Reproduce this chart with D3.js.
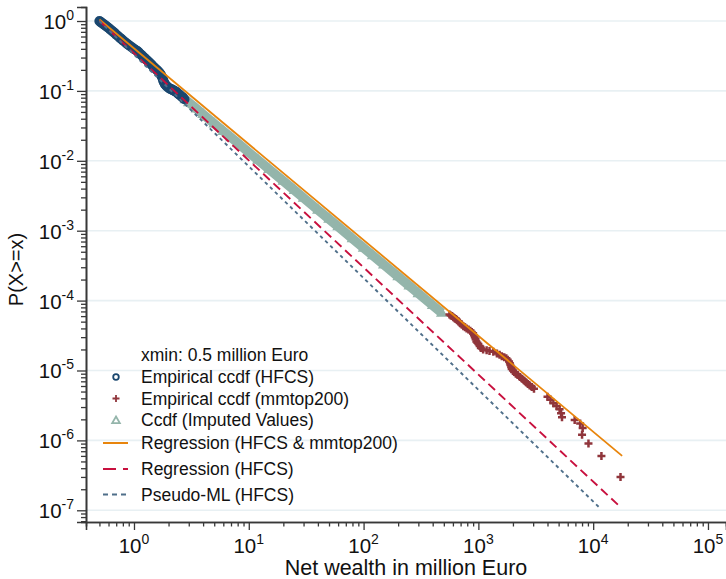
<!DOCTYPE html>
<html>
<head>
<meta charset="utf-8">
<script src="https://cdn.jsdelivr.net/npm/d3@7"></script>
<style>
  body { margin: 0; background: #fff; }
  svg { font-family: "Liberation Sans", Arial, sans-serif; }
</style>
</head>
<body>
<div class="svg-container"></div>
<script>
// Empirical ccdf of HFCS households (net wealth in million Euro, P(X>=x))
var hfcsX = [0.50, 0.51, 0.52, 0.535, 0.55, 0.565, 0.58, 0.60, 0.62, 0.64, 0.66, 0.68, 0.70, 0.725,
             0.75, 0.775, 0.80, 0.83, 0.86, 0.89, 0.92, 0.96, 1.00, 1.035, 1.07, 1.10, 1.13, 1.165,
             1.20, 1.24, 1.28, 1.33, 1.38, 1.43, 1.48, 1.53, 1.58, 1.63, 1.68, 1.72, 1.75, 1.78,
             1.80, 1.83, 1.86, 1.90, 1.95, 2.00, 2.05, 2.10, 2.15, 2.20, 2.25, 2.30, 2.35, 2.40,
             2.45, 2.52, 2.60, 2.68, 2.75];
var hfcsY = [1.00, 0.975, 0.95, 0.92, 0.89, 0.86, 0.83, 0.795, 0.76, 0.73, 0.70, 0.67, 0.64, 0.61,
             0.58, 0.555, 0.53, 0.505, 0.48, 0.46, 0.44, 0.42, 0.40, 0.385, 0.37, 0.355, 0.34, 0.325,
             0.31, 0.295, 0.28, 0.265, 0.25, 0.235, 0.22, 0.21, 0.20, 0.19, 0.18, 0.17, 0.16, 0.15,
             0.14, 0.132, 0.125, 0.12, 0.115, 0.111, 0.108, 0.106, 0.104, 0.102, 0.100, 0.098, 0.096, 0.093,
             0.090, 0.087, 0.083, 0.080, 0.076];

// Empirical ccdf of the rich list (mmtop200)
var richX = [560, 575, 590, 605, 620, 635, 650, 670, 690, 715, 740, 765, 790, 820, 850, 875, 900,
             915, 930, 945, 960, 980, 1000, 1025, 1050, 1100, 1180, 1250, 1350, 1450, 1530, 1600,
             1680, 1750, 1800, 1850, 1880, 1900, 1930, 1950, 2000, 2050, 2120, 2200, 2300, 2400,
             2500, 2600, 2700, 2800, 2920, 3050, 4000, 4250, 4500, 4800, 5100, 5250, 5350, 6900,
             7700, 8100, 8000, 9100, 11800, 17300];
var richY = [6.3e-5, 6.1e-5, 6.0e-5, 5.8e-5, 5.6e-5, 5.45e-5, 5.3e-5, 5.05e-5, 4.8e-5, 4.55e-5,
             4.3e-5, 4.15e-5, 4.0e-5, 3.85e-5, 3.7e-5, 3.55e-5, 3.4e-5, 3.2e-5, 3.0e-5, 2.8e-5,
             2.6e-5, 2.5e-5, 2.4e-5, 2.25e-5, 2.1e-5, 2.0e-5, 1.95e-5, 1.9e-5, 1.85e-5, 1.75e-5,
             1.68e-5, 1.6e-5, 1.55e-5, 1.5e-5, 1.42e-5, 1.35e-5, 1.27e-5, 1.2e-5, 1.12e-5, 1.05e-5,
             1.0e-5, 9.5e-6, 9.0e-6, 8.6e-6, 8.1e-6, 7.6e-6, 7.2e-6, 6.8e-6, 6.4e-6, 6.1e-6, 5.8e-6,
             5.5e-6, 4.2e-6, 3.8e-6, 3.4e-6, 3.1e-6, 2.8e-6, 2.45e-6, 2.15e-6, 1.95e-6, 1.75e-6,
             1.5e-6, 1.2e-6, 9.0e-7, 6.0e-7, 3.0e-7];

// Ccdf of imputed values (dense band between the two samples)
var imputedX = [2.8, 3, 3.5, 4, 5, 6, 7, 8, 10, 12, 15, 20, 25, 30, 40, 50, 60, 80, 100, 120,
                150, 200, 250, 300, 400, 480];
var imputedY = [0.0755, 0.0687, 0.0556, 0.0463, 0.0341, 0.0266, 0.0216, 0.0180, 0.0132, 0.0103,
                0.0076, 0.00514, 0.00379, 0.00295, 0.00199, 0.00147, 0.00115, 0.000773, 0.000569,
                0.000444, 0.000327, 0.000221, 0.000163, 0.000127, 0.0000857, 0.0000668];

// fitted Pareto lines, start and end points
var regBothX = [0.5, 17870], regBothY = [1.05, 6.0e-7];
var regHfcsX = [0.5, 17500], regHfcsY = [1.0, 1.09e-7];
var pmlX = [0.5, 11560], pmlY = [1.0, 1.06e-7];

// decades on the axes
var xDecades = [0, 1, 2, 3, 4, 5];
var yDecades = [0, -1, -2, -3, -4, -5, -6, -7];

var legendLabels = ["Empirical ccdf (HFCS)", "Empirical ccdf (mmtop200)", "Ccdf (Imputed Values)",
                    "Regression (HFCS & mmtop200)", "Regression (HFCS)", "Pseudo-ML (HFCS)"];

var colors = {
  navy: "#1a476f",
  maroon: "#90353b",
  tri: "#94b5ab",
  orange: "#e8850c",
  red: "#c8103e",
  slate: "#4f6f8a",
  grid: "#e8f0f3",
  axis: "#383838"
};

var width = 726, height = 579;
var plot = { left: 86, right: 726, top: 7, bottom: 522 };

var svg = d3.select(".svg-container").append("svg")
  .attr("width", width)
  .attr("height", height);

var x = d3.scaleLog()
  .domain([Math.pow(10, -0.418), Math.pow(10, 5.157)])
  .range([plot.left, plot.right]);
var y = d3.scaleLog()
  .domain([Math.pow(10, -7.1675), Math.pow(10, 0.2004)])
  .range([plot.bottom, plot.top]);

function zip(xs, ys) {
  return xs.map(function(v, i) { return [v, ys[i]]; });
}

// minor ticks 2..9 for every decade, kept inside the domain
function minorTicks(scale, from, to, lowest) {
  var out = [];
  for (var e = from; e <= to; e++) {
    for (var m = 2; m <= 9; m++) {
      var v = m * Math.pow(10, e);
      var d = scale.domain();
      if (v >= d[0] && v <= d[1] && v >= lowest) out.push(v);
    }
  }
  return out;
}

// gridlines
svg.append("g").selectAll("line")
  .data(yDecades)
  .enter().append("line")
  .attr("x1", plot.left).attr("x2", plot.right)
  .attr("y1", function(d) { return y(Math.pow(10, d)); })
  .attr("y2", function(d) { return y(Math.pow(10, d)); })
  .attr("stroke", colors.grid)
  .attr("stroke-width", 1.6);

// axes
var yAxis = d3.axisLeft(y)
  .tickValues(yDecades.map(function(d) { return Math.pow(10, d); }))
  .tickSize(9).tickFormat("");
var yMinor = d3.axisLeft(y)
  .tickValues(minorTicks(y, -8, 0, 0))
  .tickSize(5).tickFormat("");
var xAxis = d3.axisBottom(x)
  .tickValues(xDecades.map(function(d) { return Math.pow(10, d); }))
  .tickSize(8).tickFormat("");
var xMinor = d3.axisBottom(x)
  .tickValues(minorTicks(x, -1, 5, 0.5))
  .tickSize(4.5).tickFormat("");

function styleAxis(g) {
  g.selectAll("path").attr("stroke", colors.axis).attr("stroke-width", 1.6);
  g.selectAll("line").attr("stroke", colors.axis).attr("stroke-width", 1.3);
}

svg.append("g").attr("transform", "translate(" + plot.left + ",0)").call(yMinor).call(styleAxis);
svg.append("g").attr("transform", "translate(" + plot.left + ",0)").call(yAxis).call(styleAxis);
svg.append("g").attr("transform", "translate(0," + plot.bottom + ")").call(xMinor).call(styleAxis);
svg.append("g").attr("transform", "translate(0," + plot.bottom + ")").call(xAxis).call(styleAxis);

// tick labels with superscript exponents
var yLab = svg.append("g").selectAll("text")
  .data(yDecades)
  .enter().append("text")
  .attr("x", 74)
  .attr("y", function(d) { return y(Math.pow(10, d)) + 8; })
  .attr("text-anchor", "end")
  .attr("font-size", 20.5)
  .attr("fill", "#111");
yLab.append("tspan").text("10");
yLab.append("tspan").attr("dy", -9).attr("font-size", 14).text(function(d) { return d; });

var xLab = svg.append("g").selectAll("text")
  .data(xDecades)
  .enter().append("text")
  .attr("x", function(d) { return x(Math.pow(10, d)); })
  .attr("y", 553)
  .attr("text-anchor", "middle")
  .attr("font-size", 20.5)
  .attr("fill", "#111");
xLab.append("tspan").text("10");
xLab.append("tspan").attr("dy", -9).attr("font-size", 14).text(function(d) { return d; });

// axis titles
svg.append("text")
  .attr("x", (plot.left + plot.right) / 2).attr("y", 575)
  .attr("text-anchor", "middle")
  .attr("font-size", 21.5)
  .attr("fill", "#111")
  .text("Net wealth in million Euro");
svg.append("text")
  .attr("transform", "translate(23," + ((plot.top + plot.bottom) / 2 + 5) + ") rotate(-90)")
  .attr("text-anchor", "middle")
  .attr("font-size", 20)
  .attr("fill", "#111")
  .text("P(X>=x)");

// marker shapes
function plusPath(s) {
  return "M" + (-s) + ",0H" + s + "M0," + (-s) + "V" + s;
}
function triPath(s) {
  return "M0," + (-s) + "L" + (s * 0.95) + "," + (s * 0.65) + "L" + (-s * 0.95) + "," + (s * 0.65) + "Z";
}

// imputed values: dense overlapping triangles
var line = d3.line()
  .x(function(d) { return x(d[0]); })
  .y(function(d) { return y(d[1]); });
var imputed = zip(imputedX, imputedY);
svg.append("path")
  .attr("d", line(imputed))
  .attr("fill", "none")
  .attr("stroke", colors.tri)
  .attr("stroke-width", 9.5);
svg.append("g").selectAll("path")
  .data(imputed)
  .enter().append("path")
  .attr("transform", function(d) { return "translate(" + x(d[0]) + "," + y(d[1]) + ")"; })
  .attr("d", triPath(4.5))
  .attr("fill", colors.tri)
  .attr("stroke", colors.tri)
  .attr("stroke-width", 1.8);

// HFCS circles
svg.append("g").selectAll("circle")
  .data(zip(hfcsX, hfcsY))
  .enter().append("circle")
  .attr("cx", function(d) { return x(d[0]); })
  .attr("cy", function(d) { return y(d[1]); })
  .attr("r", 3.8)
  .attr("fill", "none")
  .attr("stroke", colors.navy)
  .attr("stroke-width", 2.6);

// mmtop200 pluses
svg.append("g").selectAll("path")
  .data(zip(richX, richY))
  .enter().append("path")
  .attr("transform", function(d) { return "translate(" + x(d[0]) + "," + y(d[1]) + ")"; })
  .attr("d", plusPath(4))
  .attr("fill", "none")
  .attr("stroke", colors.maroon)
  .attr("stroke-width", 2.5);

// fitted lines
var fits = [
  { pts: zip(regBothX, regBothY), color: colors.orange, dash: null, w: 1.8 },
  { pts: zip(regHfcsX, regHfcsY), color: colors.red, dash: "9,5", w: 1.9 },
  { pts: zip(pmlX, pmlY), color: colors.slate, dash: "3.5,3.5", w: 1.9 }
];
svg.append("g").selectAll("path")
  .data(fits)
  .enter().append("path")
  .attr("d", function(d) { return line(d.pts); })
  .attr("fill", "none")
  .attr("stroke", function(d) { return d.color; })
  .attr("stroke-width", function(d) { return d.w; })
  .attr("stroke-dasharray", function(d) { return d.dash; });

// legend
var legend = svg.append("g").attr("font-size", 17.5).attr("fill", "#111");
legend.append("text").attr("x", 141).attr("y", 361).text("xmin: 0.5 million Euro");

var rowY = [377, 398.5, 420, 443, 469, 494.5];
legend.selectAll("text.item")
  .data(legendLabels)
  .enter().append("text")
  .attr("class", "item")
  .attr("x", 141)
  .attr("y", function(d, i) { return rowY[i] + 6.3; })
  .text(function(d) { return d; });

legend.append("circle").attr("cx", 116).attr("cy", rowY[0]).attr("r", 2.8)
  .attr("fill", "none").attr("stroke", colors.navy).attr("stroke-width", 1.8);
legend.append("path").attr("transform", "translate(116," + rowY[1] + ")").attr("d", plusPath(3.5))
  .attr("fill", "none").attr("stroke", colors.maroon).attr("stroke-width", 1.8);
legend.append("path").attr("transform", "translate(116," + (rowY[2] + 0.5) + ")").attr("d", triPath(4))
  .attr("fill", "none").attr("stroke", colors.tri).attr("stroke-width", 1.8);

var legDash = [null, "13,7", "5,4"];
fits.forEach(function(f, i) {
  legend.append("line")
    .attr("x1", 103).attr("x2", 128)
    .attr("y1", rowY[3 + i]).attr("y2", rowY[3 + i])
    .attr("stroke", f.color)
    .attr("stroke-width", 2)
    .attr("stroke-dasharray", legDash[i]);
});
</script>
</body>
</html>
